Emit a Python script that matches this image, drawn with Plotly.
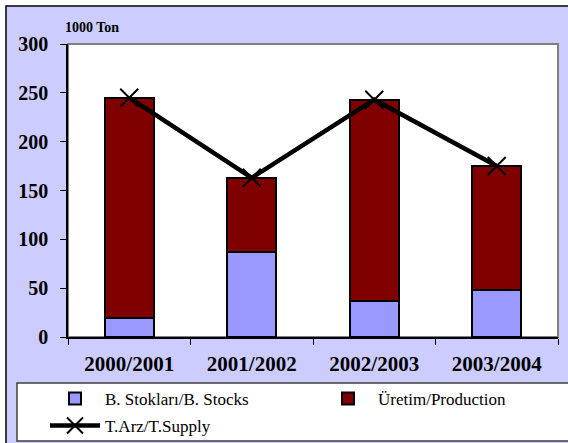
import plotly.graph_objects as go

categories = ["2000/2001", "2001/2002", "2002/2003", "2003/2004"]
stocks = [19, 87, 37, 48]
production = [226, 76, 206, 127]
supply = [245, 163, 243, 175]
y_ticks = [0, 50, 100, 150, 200, 250, 300]

W, H = 568, 443
ML, MR, MT, MB = 68, 10, 44, 106
PW, PH = W - ML - MR, H - MT - MB


def xp(px):
    return (px - ML) / PW


def yp(py):
    return (H - MB - py) / PH


FONT = "Liberation Serif"
LEG_FONT = dict(family=FONT, size=17, color="black")

fig = go.Figure()
fig.add_trace(go.Bar(
    x=categories, y=stocks, name="B. Stokları/B. Stocks",
    marker=dict(color="#9999FF", line=dict(color="black", width=2)),
    legend="legend",
))
fig.add_trace(go.Bar(
    x=categories, y=production, name="Üretim/Production",
    marker=dict(color="#800000", line=dict(color="black", width=2)),
    legend="legend3",
))
fig.add_trace(go.Scatter(
    x=categories, y=supply, name="T.Arz/T.Supply", mode="lines+markers",
    line=dict(color="black", width=4.5),
    marker=dict(symbol="x-thin", size=18, color="black",
                line=dict(color="black", width=2)),
    legend="legend2",
))

shapes = [
    dict(type="rect", xref="paper", yref="paper", layer="below",
         x0=xp(6), x1=xp(590), y0=yp(6), y1=yp(470),
         fillcolor="#CCCCFF", line=dict(color="black", width=1.5)),
    dict(type="rect", xref="paper", yref="paper", layer="below",
         x0=0, x1=1, y0=0, y1=1,
         fillcolor="white", line=dict(color="#808080", width=2)),
    dict(type="rect", xref="paper", yref="paper", layer="below",
         x0=xp(17), x1=xp(590), y0=yp(383), y1=yp(441),
         fillcolor="white", line=dict(color="#404040", width=1.5)),
]

legend_common = dict(
    orientation="h", xref="container", yref="container",
    xanchor="left", yanchor="top",
    bgcolor="rgba(0,0,0,0)", borderwidth=0, font=LEG_FONT,
    itemwidth=50, traceorder="normal",
)

fig.update_layout(
    width=W, height=H,
    margin=dict(l=ML, r=MR, t=MT, b=MB, pad=0, autoexpand=False),
    paper_bgcolor="white", plot_bgcolor="white",
    barmode="stack", bargap=0.6,
    font=dict(family=FONT, color="black"),
    shapes=shapes,
    showlegend=True,
    legend=dict(x=45 / W, y=1 - 381 / H, **legend_common),
    legend3=dict(x=318 / W, y=1 - 381 / H, **legend_common),
    legend2=dict(x=45 / W, y=1 - 408 / H, **legend_common),
    annotations=[dict(
        text="<b>1000 Ton</b>", xref="paper", yref="paper",
        x=xp(63), y=yp(27), xanchor="left", yanchor="middle",
        showarrow=False, font=dict(family=FONT, size=14, color="black"),
    )],
    xaxis=dict(
        type="category", showline=True, linecolor="black", linewidth=1.5,
        ticks="outside", tickson="boundaries", ticklen=6, tickcolor="black",
        tickfont=dict(family=FONT, size=21, color="black", weight="bold"),
        ticklabelstandoff=7, showgrid=False, zeroline=False,
        automargin=False,
    ),
    yaxis=dict(
        range=[0, 300], tickvals=y_ticks, showline=True, linecolor="black",
        linewidth=1.5, ticks="outside", ticklen=6, tickcolor="black",
        tickfont=dict(family=FONT, size=20, color="black", weight="bold"),
        ticklabelstandoff=8, showgrid=False, zeroline=False,
        automargin=False,
    ),
)

fig.write_html("out.html", config={"displayModeBar": False},
               post_script="document.body.style.margin='0';")
